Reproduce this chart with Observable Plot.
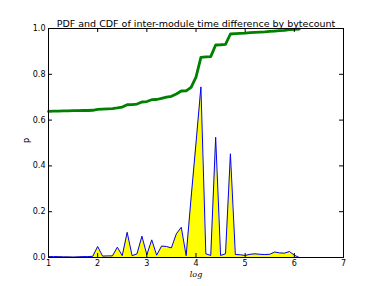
<!DOCTYPE html>
<html><head><meta charset="utf-8">
<script src="https://cdn.jsdelivr.net/npm/d3@7"></script>
<script src="https://cdn.jsdelivr.net/npm/@observablehq/plot@0.6"></script>
<style>body{margin:0;background:#fff}</style>
</head><body><div id="chart"></div>
<script>
const logX = [1.0,1.1,1.2,1.3,1.4,1.5,1.6,1.7,1.8,1.9,2.0,2.1,2.2,2.3,2.4,2.5,2.6,2.7,2.8,2.9,3.0,3.1,3.2,3.3,3.4,3.5,3.6,3.7,3.8,3.9,4.0,4.1,4.2,4.3,4.4,4.5,4.6,4.7,4.8,4.9,5.0,5.1,5.2,5.3,5.4,5.5,5.6,5.7,5.8,5.9,6.0,6.1];
const pdf = [0.004,0.004,0.004,0.003,0.003,0.002,0.003,0.004,0.004,0.005,0.048,0.006,0.007,0.007,0.045,0.008,0.110,0.008,0.016,0.093,0.012,0.077,0.010,0.050,0.048,0.042,0.103,0.132,0.008,0.260,0.500,0.745,0.016,0.009,0.525,0.009,0.016,0.453,0.013,0.012,0.009,0.014,0.016,0.014,0.013,0.014,0.024,0.020,0.019,0.026,0.010,0.000];
const cdf = [0.638,0.639,0.639,0.640,0.640,0.641,0.641,0.642,0.642,0.643,0.647,0.648,0.649,0.650,0.653,0.657,0.667,0.668,0.670,0.679,0.681,0.689,0.690,0.695,0.700,0.704,0.714,0.727,0.728,0.743,0.788,0.874,0.876,0.877,0.928,0.929,0.931,0.976,0.978,0.979,0.980,0.982,0.983,0.984,0.985,0.987,0.989,0.991,0.992,0.995,0.996,0.997];
const xTicks = [1,2,3,4,5,6,7];
const yTicks = [0,0.2,0.4,0.6,0.8,1.0];
const title = "PDF and CDF of inter-module time difference by bytecount";
const xLabel = "log";
const yLabel = "p";

const rows = logX.map((x, i) => ({x, pdf: pdf[i], cdf: cdf[i]}));
const W = 382, H = 286, mL = 48, mR = 39, mT = 28, mB = 29;
const ph = H - mT - mB, pw = W - mL - mR;

const chart = Plot.plot({
  width: W, height: H,
  marginLeft: mL, marginRight: mR, marginTop: mT, marginBottom: mB,
  style: {fontFamily: "DejaVu Sans", fontSize: "8px", background: "#fff", color: "#000"},
  x: {domain: [1, 7]},
  y: {domain: [0, 1]},
  marks: [
    Plot.areaY(rows, {x: "x", y: "pdf", fill: "#ffff00"}),
    Plot.lineY(rows, {x: "x", y: "pdf", stroke: "#0000ff", strokeWidth: 1}),
    Plot.lineY(rows, {x: "x", y: "cdf", stroke: "#008000", strokeWidth: 2.8}),
    Plot.frame({stroke: "#000", strokeWidth: 1}),
    Plot.tickX(xTicks, {x: d => d, insetTop: ph - 4, stroke: "#000"}),
    Plot.tickX(xTicks, {x: d => d, insetBottom: ph - 4, stroke: "#000"}),
    Plot.tickY(yTicks, {y: d => d, insetRight: pw - 4, stroke: "#000"}),
    Plot.tickY(yTicks, {y: d => d, insetLeft: pw - 4, stroke: "#000"}),
    Plot.axisX(xTicks, {tickSize: 0, tickPadding: 3, tickFormat: d => String(d), label: null, fontSize: 8}),
    Plot.axisY(yTicks, {tickSize: 0, tickPadding: 3, tickFormat: d => d.toFixed(1), label: null, fontSize: 8}),
    Plot.text([title], {frameAnchor: "top", lineAnchor: "bottom", dy: -2, fontSize: 9.5, fill: "#000"}),
    Plot.text([xLabel], {frameAnchor: "bottom", lineAnchor: "middle", dy: 17, fontSize: 8, fontFamily: "DejaVu Serif", fontStyle: "italic", fill: "#000"}),
    Plot.text([yLabel], {frameAnchor: "left", dx: -22, rotate: -90, fontSize: 8, fill: "#000"})
  ]
});
document.getElementById("chart").appendChild(chart);
</script>
</body></html>
